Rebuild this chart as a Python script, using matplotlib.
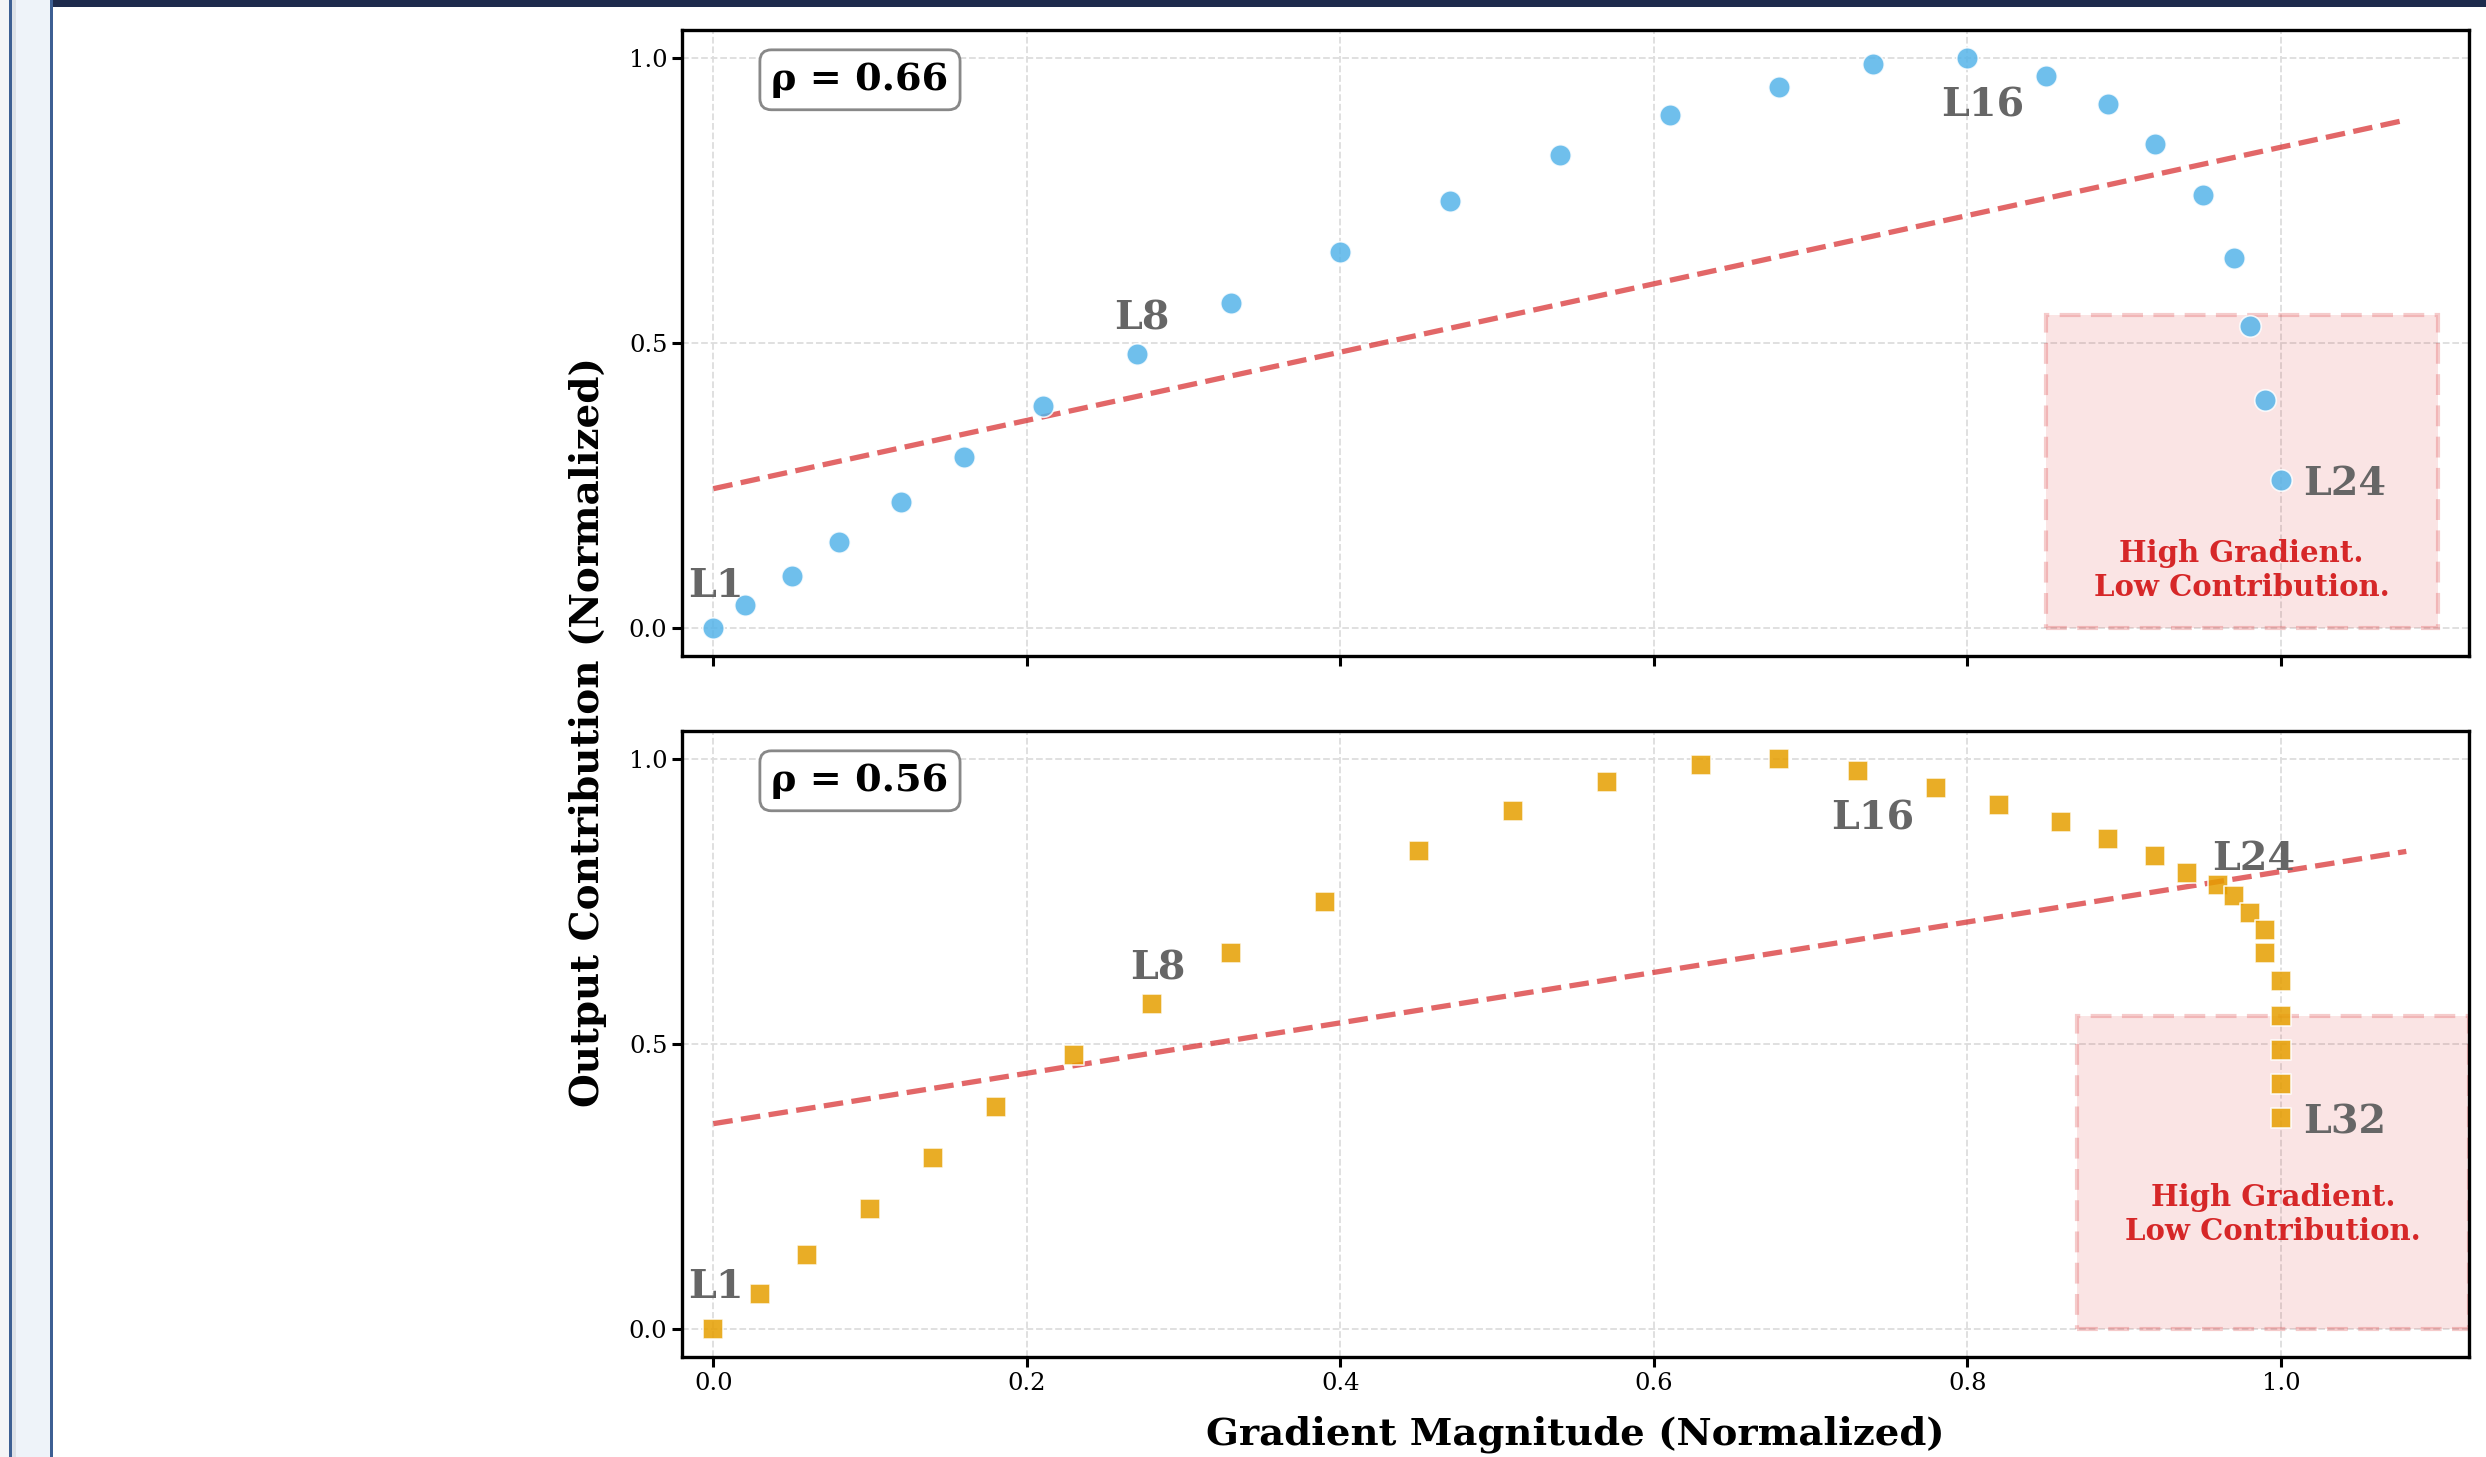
import numpy as np
import matplotlib
matplotlib.use('Agg')
import matplotlib.pyplot as plt
from matplotlib.patches import Rectangle

# values
grad_a = [0.00, 0.02, 0.05, 0.08, 0.12, 0.16, 0.21, 0.27, 0.33, 0.40, 0.47, 0.54,
          0.61, 0.68, 0.74, 0.80, 0.85, 0.89, 0.92, 0.95, 0.97, 0.98, 0.99, 1.00]
contrib_a = [0.00, 0.04, 0.09, 0.15, 0.22, 0.30, 0.39, 0.48, 0.57, 0.66, 0.75, 0.83,
             0.90, 0.95, 0.99, 1.00, 0.97, 0.92, 0.85, 0.76, 0.65, 0.53, 0.40, 0.26]
grad_b = [0.00, 0.03, 0.06, 0.10, 0.14, 0.18, 0.23, 0.28, 0.33, 0.39, 0.45, 0.51,
          0.57, 0.63, 0.68, 0.73, 0.78, 0.82, 0.86, 0.89, 0.92, 0.94, 0.96, 0.97,
          0.98, 0.99, 0.99, 1.00, 1.00, 1.00, 1.00, 1.00]
contrib_b = [0.00, 0.06, 0.13, 0.21, 0.30, 0.39, 0.48, 0.57, 0.66, 0.75, 0.84, 0.91,
             0.96, 0.99, 1.00, 0.98, 0.95, 0.92, 0.89, 0.86, 0.83, 0.80, 0.78, 0.76,
             0.73, 0.70, 0.66, 0.61, 0.55, 0.49, 0.43, 0.37]
rho_a = 0.66
rho_b = 0.56
# trend lines: (slope, intercept)
trend_a = (0.60, 0.244)
trend_b = (0.443, 0.36)
# labelled layers: layer number -> text offset in points
labels_a = {1: (2, 30), 8: (4, 26), 16: (11, -34), 24: (46, -3)}
labels_b = {1: (2, 30), 8: (4, 26), 16: (11, -34), 24: (14, 27), 32: (46, -3)}
zone_a = (0.85, 0.10)   # zone left edge, text y
zone_b = (0.87, 0.20)

W, H = 2486, 1457
plt.rcParams['font.family'] = 'DejaVu Serif'

fig = plt.figure(figsize=(W / 100, H / 100), dpi=100)
fig.patch.set_facecolor('white')


def box(x0, y0, x1, y1, **kw):
    # rectangle in pixel coords (y from top) on the figure
    fig.add_artist(Rectangle((x0 / W, 1 - y1 / H), (x1 - x0) / W, (y1 - y0) / H,
                             transform=fig.transFigure, **kw))


# page frame around the figure
box(0, 0, 9, H, facecolor='#f4f5f7', edgecolor='none')
box(9, 0, 12, H, facecolor='#3d5f93', edgecolor='none')
box(12, 0, 16, H, facecolor='#dde1e7', edgecolor='none')
box(16, 0, 50, H, facecolor='#eef3f9', edgecolor='none')
box(50, 0, 53, H, facecolor='#3d5f93', edgecolor='none')
box(53, 0, W, 7, facecolor='#1e2b4d', edgecolor='none')

ax1 = fig.add_axes([682 / W, 1 - 656 / H, (2469 - 682) / W, 626 / H])
ax2 = fig.add_axes([682 / W, 1 - 1357 / H, (2469 - 682) / W, 626 / H])

RED = '#d62728'


def draw(ax, gx, gy, rho, trend, labels, zone, marker, color):
    gx = np.array(gx)
    gy = np.array(gy)
    ax.set_xlim(-0.02, 1.12)
    ax.set_ylim(-0.05, 1.05)
    ax.grid(True, linestyle='--', color='#dddddd', linewidth=1.3, zorder=0)
    ax.set_axisbelow(True)

    zx, ty = zone
    ax.add_patch(Rectangle((zx, 0.0), 0.25, 0.55, facecolor=(0.84, 0.15, 0.16, 0.12),
                           edgecolor=(0.84, 0.15, 0.16, 0.24), linestyle=(0, (5, 2.5)),
                           linewidth=3, zorder=1))
    ax.text(zx + 0.125, ty, 'High Gradient.\nLow Contribution.', color=RED,
            fontsize=21, fontweight='bold', ha='center', va='center', zorder=2)

    xl = np.linspace(0, 1.08, 50)
    ax.plot(xl, trend[0] * xl + trend[1], color=RED, alpha=0.7, linestyle='--',
            linewidth=3.8, zorder=3)

    ax.scatter(gx, gy, s=240 if marker == 'o' else 210, marker=marker, color=color,
               alpha=0.85, edgecolors='white', linewidths=1.2, zorder=4)

    for k, off in labels.items():
        ax.annotate('L%d' % k, (gx[k - 1], gy[k - 1]), xytext=off, textcoords='offset points',
                    ha='center', va='center', fontsize=28.5, fontweight='bold',
                    color='#666666', zorder=5)

    ax.text(0.05, 0.95, '\u03c1 = %.2f' % rho, transform=ax.transAxes, ha='left', va='top',
            fontsize=27.5, fontweight='bold', zorder=6,
            bbox=dict(boxstyle='round,pad=0.3', facecolor='white', edgecolor='#888888',
                      linewidth=2))

    ax.set_xticks([0.0, 0.2, 0.4, 0.6, 0.8, 1.0])
    ax.set_yticks([0.0, 0.5, 1.0])
    ax.tick_params(axis='both', labelsize=17.5, length=7, width=2.2, direction='out')
    for sp in ax.spines.values():
        sp.set_linewidth(2.4)
        sp.set_color('black')


draw(ax1, grad_a, contrib_a, rho_a, trend_a, labels_a, zone_a, 'o', '#56B4E9')
draw(ax2, grad_b, contrib_b, rho_b, trend_b, labels_b, zone_b, 's', '#E69F00')

ax1.tick_params(axis='x', labelbottom=False)
ax2.set_xlabel('Gradient Magnitude (Normalized)', fontsize=27.7, fontweight='bold', labelpad=15)

fig.text(588 / W, 1 - 732 / H, 'Output Contribution (Normalized)', rotation=90,
         ha='center', va='center', fontsize=28, fontweight='bold')

fig.savefig('out.png', dpi=100)
